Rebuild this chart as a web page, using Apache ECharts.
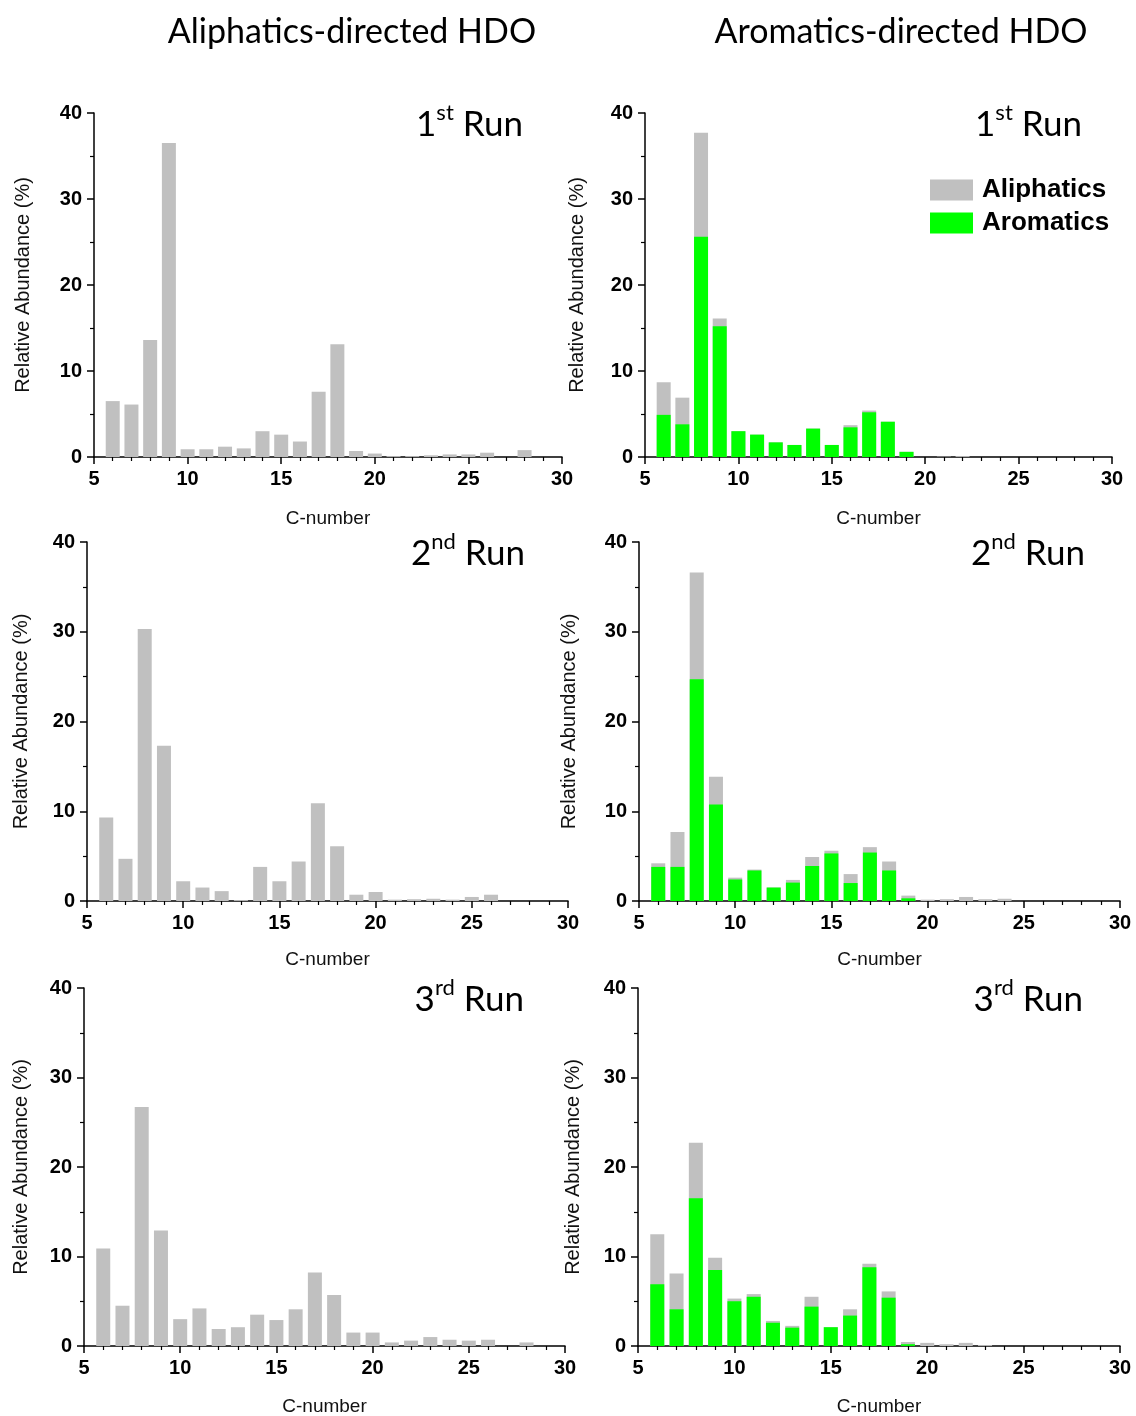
<!DOCTYPE html>
<html>
<head>
<meta charset="utf-8">
<title>C-number distribution HDO</title>
<script src="https://cdn.jsdelivr.net/npm/echarts@6/dist/echarts.min.js"></script>
<style>
html, body {margin:0; padding:0; background:#fff;}
#main {width:1136px; height:1416px;}
</style>
</head>
<body>
<div id="main"></div>
<script>
// C-number 6..28 (left column), 6..24 (right column)
var cLeft = [6, 7, 8, 9, 10, 11, 12, 13, 14, 15, 16, 17, 18, 19, 20, 21, 22, 23, 24, 25, 26, 27, 28];
var cRight = [6, 7, 8, 9, 10, 11, 12, 13, 14, 15, 16, 17, 18, 19, 20, 21, 22, 23, 24];

// Aliphatics-directed HDO
var run1Left = [6.5, 6.1, 13.6, 36.5, 0.9, 0.9, 1.2, 1.0, 3.0, 2.6, 1.8, 7.6, 13.1, 0.7, 0.4, 0.1, 0.1, 0.2, 0.3, 0.3, 0.5, 0, 0.8];
var run2Left = [9.3, 4.7, 30.3, 17.3, 2.2, 1.5, 1.1, 0.1, 3.8, 2.2, 4.4, 10.9, 6.1, 0.7, 1.0, 0.15, 0.2, 0.25, 0.15, 0.45, 0.7, 0, 0];
var run3Left = [10.9, 4.5, 26.7, 12.9, 3.0, 4.2, 1.9, 2.1, 3.5, 2.9, 4.1, 8.2, 5.7, 1.5, 1.5, 0.4, 0.6, 1.0, 0.7, 0.6, 0.7, 0, 0.4];

// Aromatics-directed HDO : total height (gray top) and aromatics part (green)
var run1Total = [8.7, 6.9, 37.7, 16.1, 3.0, 2.6, 1.7, 1.4, 3.3, 1.4, 3.7, 5.4, 4.1, 0.6, 0, 0.05, 0.1, 0, 0];
var run1Aro = [4.9, 3.8, 25.6, 15.2, 3.0, 2.6, 1.7, 1.4, 3.3, 1.4, 3.45, 5.2, 4.1, 0.6, 0, 0, 0, 0, 0];
var run2Total = [4.2, 7.7, 36.6, 13.85, 2.6, 3.5, 1.5, 2.35, 4.9, 5.6, 3.0, 6.0, 4.4, 0.6, 0.15, 0.2, 0.45, 0.2, 0.25];
var run2Aro = [3.8, 3.8, 24.7, 10.75, 2.4, 3.4, 1.5, 2.05, 3.9, 5.3, 2.0, 5.4, 3.4, 0.3, 0, 0, 0, 0, 0];
var run3Total = [12.5, 8.1, 22.7, 9.85, 5.3, 5.8, 2.8, 2.25, 5.5, 2.1, 4.1, 9.2, 6.1, 0.45, 0.35, 0.2, 0.35, 0.1, 0];
var run3Aro = [6.9, 4.1, 16.5, 8.5, 5.0, 5.5, 2.6, 2.05, 4.4, 2.1, 3.4, 8.8, 5.4, 0.2, 0, 0, 0, 0, 0];

var runNames = [['1', 'st'], ['2', 'nd'], ['3', 'rd']];

var GRAY = '#c0c0c0';
var GREEN = '#00ff00';
var ARIAL = 'Liberation Sans, Arial, sans-serif';
var TITLEFONT = 'Lato, Open Sans, sans-serif';

// plot boxes (left col, right col) x 3 rows
var boxes = [
    {left:94, top:113, width:468, height:344},
    {left:645, top:113, width:467, height:344},
    {left:87, top:542, width:481, height:359},
    {left:639, top:542, width:481, height:359},
    {left:84, top:988, width:481, height:358},
    {left:638, top:988, width:482, height:358}
];
var yNameGap = [61, 58, 56, 60, 53, 55];
var xNameGap = [52, 52, 49, 49, 51, 51];
var runRight = [518, 1077, 520, 1080, 519, 1078];

function pairs(xs, ys){
    var out = [];
    for (var i = 0; i < xs.length; i++) {
        out.push([xs[i], ys[i]]);
    }
    return out;
}

var grid = [], xAxis = [], yAxis = [], series = [], title = [];

title.push({text:'Aliphatics-directed HDO', left:347, top:10, textAlign:'center',
    textStyle:{fontFamily:TITLEFONT, fontSize:34, fontWeight:'normal', color:'#000'}});
title.push({text:'Aromatics-directed HDO', left:896, top:10, textAlign:'center',
    textStyle:{fontFamily:TITLEFONT, fontSize:34, fontWeight:'normal', color:'#000'}});

for (var i = 0; i < 6; i++) {
    var b = boxes[i];
    grid.push({left:b.left, top:b.top, width:b.width, height:b.height, outerBoundsMode:'none'});
    xAxis.push({
        type:'value', gridIndex:i, min:5, max:30, interval:5,
        name:'C-number', nameLocation:'middle', nameGap:xNameGap[i],
        nameTextStyle:{fontFamily:ARIAL, fontSize:19, color:'#111'},
        axisLine:{show:true, onZero:false, lineStyle:{color:'#000', width:1.5}},
        axisTick:{show:true, length:7, lineStyle:{color:'#000', width:1.5}},
        minorTick:{show:true, splitNumber:5, length:4, lineStyle:{color:'#000', width:1.2}},
        splitLine:{show:false},
        axisLabel:{margin:12, fontFamily:ARIAL, fontSize:20, fontWeight:'bold', color:'#000',
            showMinLabel:true, showMaxLabel:true}
    });
    yAxis.push({
        type:'value', gridIndex:i, min:0, max:40, interval:10,
        name:'Relative Abundance (%)', nameLocation:'middle', nameGap:yNameGap[i],
        nameTextStyle:{fontFamily:ARIAL, fontSize:20, color:'#111'},
        axisLine:{show:true, lineStyle:{color:'#000', width:1.5}},
        axisTick:{show:true, length:7, lineStyle:{color:'#000', width:1.5}},
        minorTick:{show:true, splitNumber:2, length:4, lineStyle:{color:'#000', width:1.2}},
        splitLine:{show:false},
        axisLabel:{margin:12, fontFamily:ARIAL, fontSize:20, fontWeight:'bold', color:'#000'}
    });

    // run label with superscript
    var rn = runNames[Math.floor(i / 2)];
    title.push({
        text:'{n|' + rn[0] + '}{s|' + rn[1] + '}{n| Run}',
        left:runRight[i], top:b.top - 16, textAlign:'right',
        textStyle:{fontWeight:'normal', rich:{
            n:{fontFamily:TITLEFONT, fontSize:35, fontWeight:'normal', color:'#000', lineHeight:40, verticalAlign:'bottom'},
            s:{fontFamily:TITLEFONT, fontSize:22, fontWeight:'normal', color:'#000', lineHeight:26, verticalAlign:'top'}
        }}
    });
}

var leftRuns = [run1Left, run2Left, run3Left];
var totalRuns = [run1Total, run2Total, run3Total];
var aroRuns = [run1Aro, run2Aro, run3Aro];

for (var r = 0; r < 3; r++) {
    // 左列 : aliphatics only
    series.push({
        name:'Aliphatics', type:'bar', xAxisIndex:r * 2, yAxisIndex:r * 2,
        barWidth:14, itemStyle:{color:GRAY}, data:pairs(cLeft, leftRuns[r])
    });
    // 右列 : gray total behind, green aromatics in front
    series.push({
        name:'Aliphatics', type:'bar', xAxisIndex:r * 2 + 1, yAxisIndex:r * 2 + 1,
        barWidth:14, barGap:'-100%', z:2, itemStyle:{color:GRAY}, data:pairs(cRight, totalRuns[r])
    });
    series.push({
        name:'Aromatics', type:'bar', xAxisIndex:r * 2 + 1, yAxisIndex:r * 2 + 1,
        barWidth:14, barGap:'-100%', z:3, itemStyle:{color:GREEN}, data:pairs(cRight, aroRuns[r])
    });
}

var chart = echarts.init(document.getElementById('main'));
chart.setOption({
    animation:false,
    backgroundColor:'#fff',
    title:title,
    legend:{
        data:['Aliphatics', 'Aromatics'], orient:'vertical', left:925, top:172,
        itemWidth:43, itemHeight:21, itemGap:7, icon:'rect', selectedMode:false,
        textStyle:{fontFamily:ARIAL, fontSize:26, fontWeight:'bold', color:'#000', padding:[0, 0, 0, 4]}
    },
    grid:grid,
    xAxis:xAxis,
    yAxis:yAxis,
    series:series
});
</script>
</body>
</html>
